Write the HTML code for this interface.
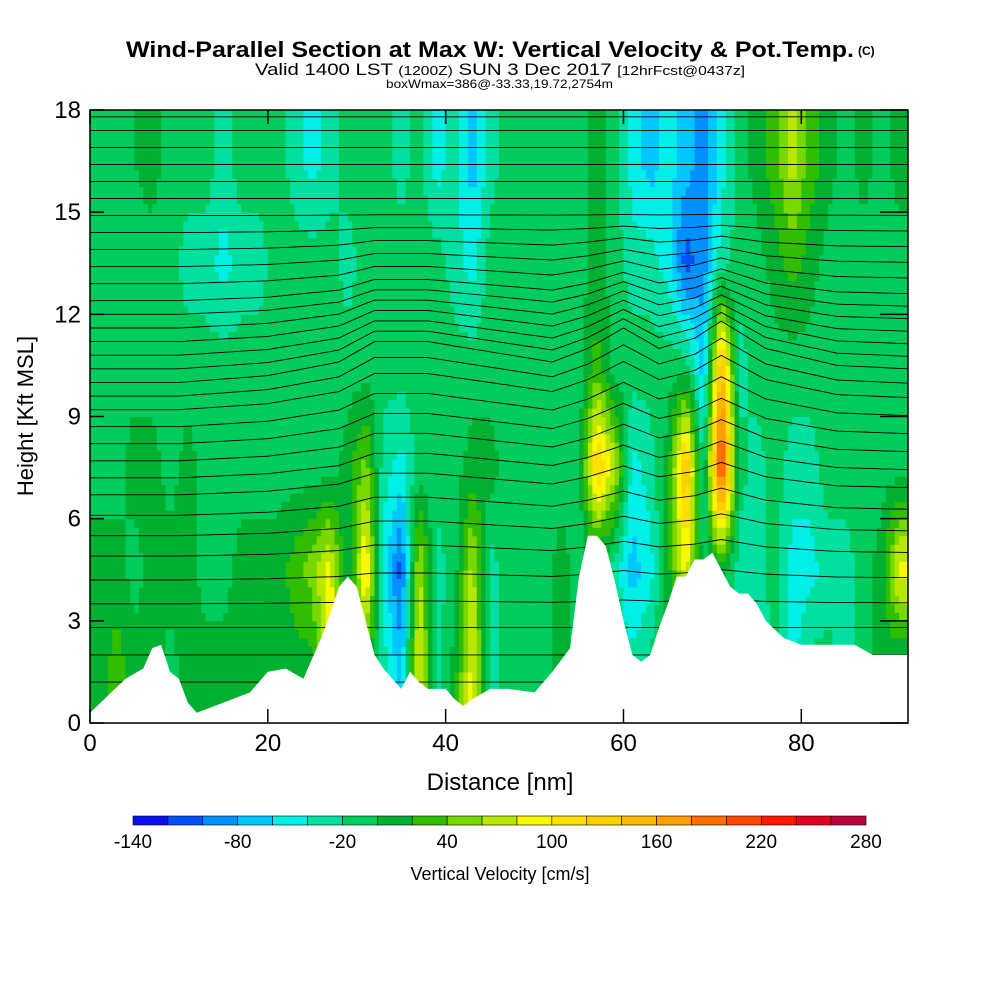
<!DOCTYPE html>
<html><head><meta charset="utf-8"><style>
body{margin:0;background:#fff;font-family:"Liberation Sans",sans-serif}
svg text{font-family:"Liberation Sans",sans-serif}
</style></head><body>
<svg id="c" width="1000" height="1000" xmlns="http://www.w3.org/2000/svg">
<rect width="1000" height="1000" fill="#fff"/>
<text x="126" y="57" textLength="728" lengthAdjust="spacingAndGlyphs" font-size="22" font-weight="bold">Wind-Parallel Section at Max W: Vertical Velocity &amp; Pot.Temp.</text>
<text x="858" y="55" font-size="12" font-weight="bold">(C)</text>
<text x="255" y="75" textLength="490" lengthAdjust="spacingAndGlyphs" font-size="17">Valid 1400 LST <tspan font-size="13">(1200Z)</tspan> SUN 3 Dec 2017 <tspan font-size="13">[12hrFcst@0437z]</tspan></text>
<text x="386" y="88" textLength="227" lengthAdjust="spacingAndGlyphs" font-size="12">boxWmax=386@-33.33,19.72,2754m</text>
<g id="field"></g><g id="contours"></g><g id="terrain"></g><g id="axes"></g><g id="cbar"></g>
<text x="500" y="790" text-anchor="middle" font-size="24">Distance [nm]</text>
<text transform="translate(33,416) rotate(-90)" text-anchor="middle" font-size="22">Height [Kft MSL]</text>
<text x="500" y="880" text-anchor="middle" font-size="18">Vertical Velocity [cm/s]</text>
</svg>
<script>
const xTicks=[0,20,40,60,80];
const yTicks=[0,3,6,9,12,15,18];
const cbLevels=[-140,-120,-100,-80,-60,-40,-20,0,20,40,60,80,100,120,140,160,180,200,220,240,260,280];
const cbColors=["#0a10f0","#0050f8","#0090ff","#00c8ff","#00f0e8","#00e0a0","#00cc5c","#00b030","#30be00","#78d800","#b8e800","#f8f800","#ffe000","#ffd000","#ffb800","#ffa000","#ff7000","#ff4800","#ff1800","#e00020","#b80040"];
const colCenters=[1,3,5,7,9,11,13,15,17,19,21,23,25,27,29,31,33,35,37,39,41,43,45,47,49,51,53,55,57,59,61,63,65,67,69,71,73,75,77,79,81,83,85,87,89,91];
const row0=[10,30,10,10,-10,10,10,10,10,10,10,10,10,110,-10,30,-30,-70,90,-30,10,90,-30,-10,-10,-10,10,-10,-10,-10,-30,-10,10,-10,-10,-10,-30,-50,-10,-50,-10,-10,-30,-10,10,-10];
const row1=[10,10,-10,10,10,10,-10,-10,10,10,10,30,50,90,-10,110,-50,-110,70,-30,-10,70,-30,-10,-10,-10,10,-10,-10,-30,-70,-50,10,90,-10,10,-30,-30,-10,-50,-50,-30,-30,-10,10,90];
const row2=[-10,-10,10,10,-10,10,-10,-10,-10,-10,-10,-10,-10,-10,10,50,-30,-50,-10,-10,-10,10,10,-10,-10,-10,-10,-10,130,70,-50,-30,10,150,-30,230,-10,-30,-10,-30,-30,-10,-10,-10,-10,-10];
const row3=[-10,0,-10,-10,-10,-10,-10,-10,-10,-10,-10,-10,-10,-10,-10,-10,-10,-10,-10,-10,-10,-10,-10,-10,-10,-10,-10,-10,30,-10,-10,-10,-10,-10,-70,150,-30,-10,-10,-10,-10,-10,-10,-10,-10,-10];
const row4=[-10,-10,-10,-10,-10,-30,-30,-50,-30,-30,-10,-10,-10,-10,-30,-10,-10,-10,-10,-10,-30,-50,-10,-10,-10,-10,-10,-10,10,-10,-30,-30,-50,-110,-90,-30,-10,-10,10,30,10,-10,-10,-10,-10,-10];
const row5=[-10,-10,0,10,-10,-10,-10,-30,-10,-10,-10,-30,-50,-30,-10,-10,-10,-30,-10,-50,-30,-70,-30,-10,-10,-10,-10,-10,10,-10,-50,-70,-50,-70,-90,-50,-10,10,30,70,30,10,-10,10,-10,10];
const terrX=[0,2,4,6,7,8,9,10,11,12,14,16,18,20,22,24,26,27,28,29,30,31,32,33,34,35,36,37,38,40,41,42,43,45,47,50,52,54,55,56,57,58,59,60,61,62,63,64,65,66,67,68,69,70,71,72,73,74,75,76,78,80,82,86,88,92];
const terrH=[0.3,0.8,1.3,1.6,2.2,2.3,1.5,1.3,0.6,0.3,0.5,0.7,0.9,1.5,1.6,1.3,2.5,3.2,4.0,4.3,4.0,3.0,2.0,1.6,1.3,1.0,1.5,1.2,1.0,1.0,0.7,0.5,0.7,1.0,1.0,0.9,1.5,2.2,4.3,5.5,5.5,5.2,4.2,3.0,2.0,1.8,2.0,2.8,3.5,4.3,4.3,4.8,4.8,5.0,4.5,4.0,3.8,3.8,3.5,3.0,2.5,2.3,2.3,2.3,2.0,2.0];
const thetaBase=[1.2,2.0,2.8,3.5,4.2,4.9,5.5,6.1,6.7,7.2,7.7,8.2,8.7,9.2,9.6,10.0,10.4,10.8,11.2,11.6,12.0,12.4,12.9,13.4,13.9,14.4,14.9,15.4,15.9,16.4,16.9,17.4,17.8];
const bumpX=[0,10,20,28,32,38,45,52,56,60,64,68,71,76,84,92];
const bumpY=[0,0,0.2,0.6,1.2,1.2,0.9,0.6,1.0,1.6,1.0,1.3,1.8,1.0,0.5,0.4];

const NS="http://www.w3.org/2000/svg";
const X0=90,X1=908,Y0=723,Y1=110;
const sx=v=>X0+v/92*(X1-X0);
const sy=v=>Y0-v/18*(Y0-Y1);
function mk(t,a,p){const e=document.createElementNS(NS,t);for(const k in a)e.setAttribute(k,a[k]);p.appendChild(e);return e;}
function colorFor(v){for(let i=0;i<cbColors.length;i++){if(v<cbLevels[i+1])return cbColors[i];}return cbColors[cbColors.length-1];}
function interp(xs,ys,x){if(x<=xs[0])return ys[0];for(let i=0;i<xs.length-1;i++){if(x<=xs[i+1]){const t=(x-xs[i])/(xs[i+1]-xs[i]);return ys[i]+t*(ys[i+1]-ys[i]);}}return ys[ys.length-1];}
const field=document.getElementById('field');
const rows=[row0,row1,row2,row3,row4,row5];
const rowCenters=rows.map((r,i)=>i*3+1.5);
const DX=0.5,DY=0.25;
for(let x=0;x<92;x+=DX){
 const cx=x+DX/2;
 const col=rows.map(r=>interp(colCenters,r,cx));
 for(let y=0;y<18;y+=DY){
  const v=interp(rowCenters,col,y+DY/2);
  const r=mk('rect',{x:sx(x).toFixed(2),y:sy(y+DY).toFixed(2),width:(sx(DX)-sx(0)+0.6).toFixed(2),height:(sy(0)-sy(DY)+0.6).toFixed(2),fill:colorFor(v)},field);
  
  
 }
}
const cont=document.getElementById('contours');
thetaBase.forEach(b=>{
 const w=b<10?Math.max(0,1-(10-b)/7):Math.max(0,1-(b-10)/5);
 let d='';
 for(let x=0;x<=92;x+=1){const h=Math.min(18,b+interp(bumpX,bumpY,x)*w);d+=(x?'L':'M')+sx(x).toFixed(1)+','+sy(h).toFixed(1);}
 const p=mk('path',{d:d,fill:'none',stroke:'#000','stroke-width':0.9},cont);
 
 
});
const ter=document.getElementById('terrain');
let td='M'+sx(0)+','+sy(0);
terrX.forEach((x,i)=>{td+='L'+sx(x).toFixed(1)+','+sy(terrH[i]).toFixed(1);});
td+='L'+sx(92)+','+sy(0)+'Z';
const tp=mk('path',{d:td,fill:'#fff',stroke:'none'},ter);


const ax=document.getElementById('axes');
const fr=mk('rect',{x:X0,y:Y1,width:X1-X0,height:Y0-Y1,fill:'none',stroke:'#000','stroke-width':1.5},ax);


xTicks.forEach(t=>{
 mk('line',{x1:sx(t),x2:sx(t),y1:Y0,y2:Y0-14,stroke:'#000','stroke-width':1.5},ax);
 mk('line',{x1:sx(t),x2:sx(t),y1:Y1,y2:Y1+14,stroke:'#000','stroke-width':1.5},ax);
 const tx=mk('text',{x:sx(t),y:Y0+28,'text-anchor':'middle','font-size':24},ax);
 tx.textContent=t;
 
 
});
yTicks.forEach(t=>{
 mk('line',{x1:X0,x2:X0+14,y1:sy(t),y2:sy(t),stroke:'#000','stroke-width':1.5},ax);
 mk('line',{x1:X1,x2:X1-28,y1:sy(t),y2:sy(t),stroke:'#000','stroke-width':1.5},ax);
 const tx=mk('text',{x:X0-9,y:sy(t)+8,'text-anchor':'end','font-size':24},ax);
 tx.textContent=t;
 
 
});
const cb=document.getElementById('cbar');
const CB0=133,CB1=866,cw=(CB1-CB0)/cbColors.length;
cbColors.forEach((c,i)=>{
 const r=mk('rect',{x:CB0+i*cw,y:816,width:cw,height:9,fill:c,stroke:'#000','stroke-width':0.6},cb);
 
 
});
cbLevels.forEach((l,i)=>{if(i%3!==0)return;
 const tx=mk('text',{x:CB0+i*cw,y:848,'text-anchor':'middle','font-size':19},cb);
 tx.textContent=l;
 
 
});
</script>
</body></html>
